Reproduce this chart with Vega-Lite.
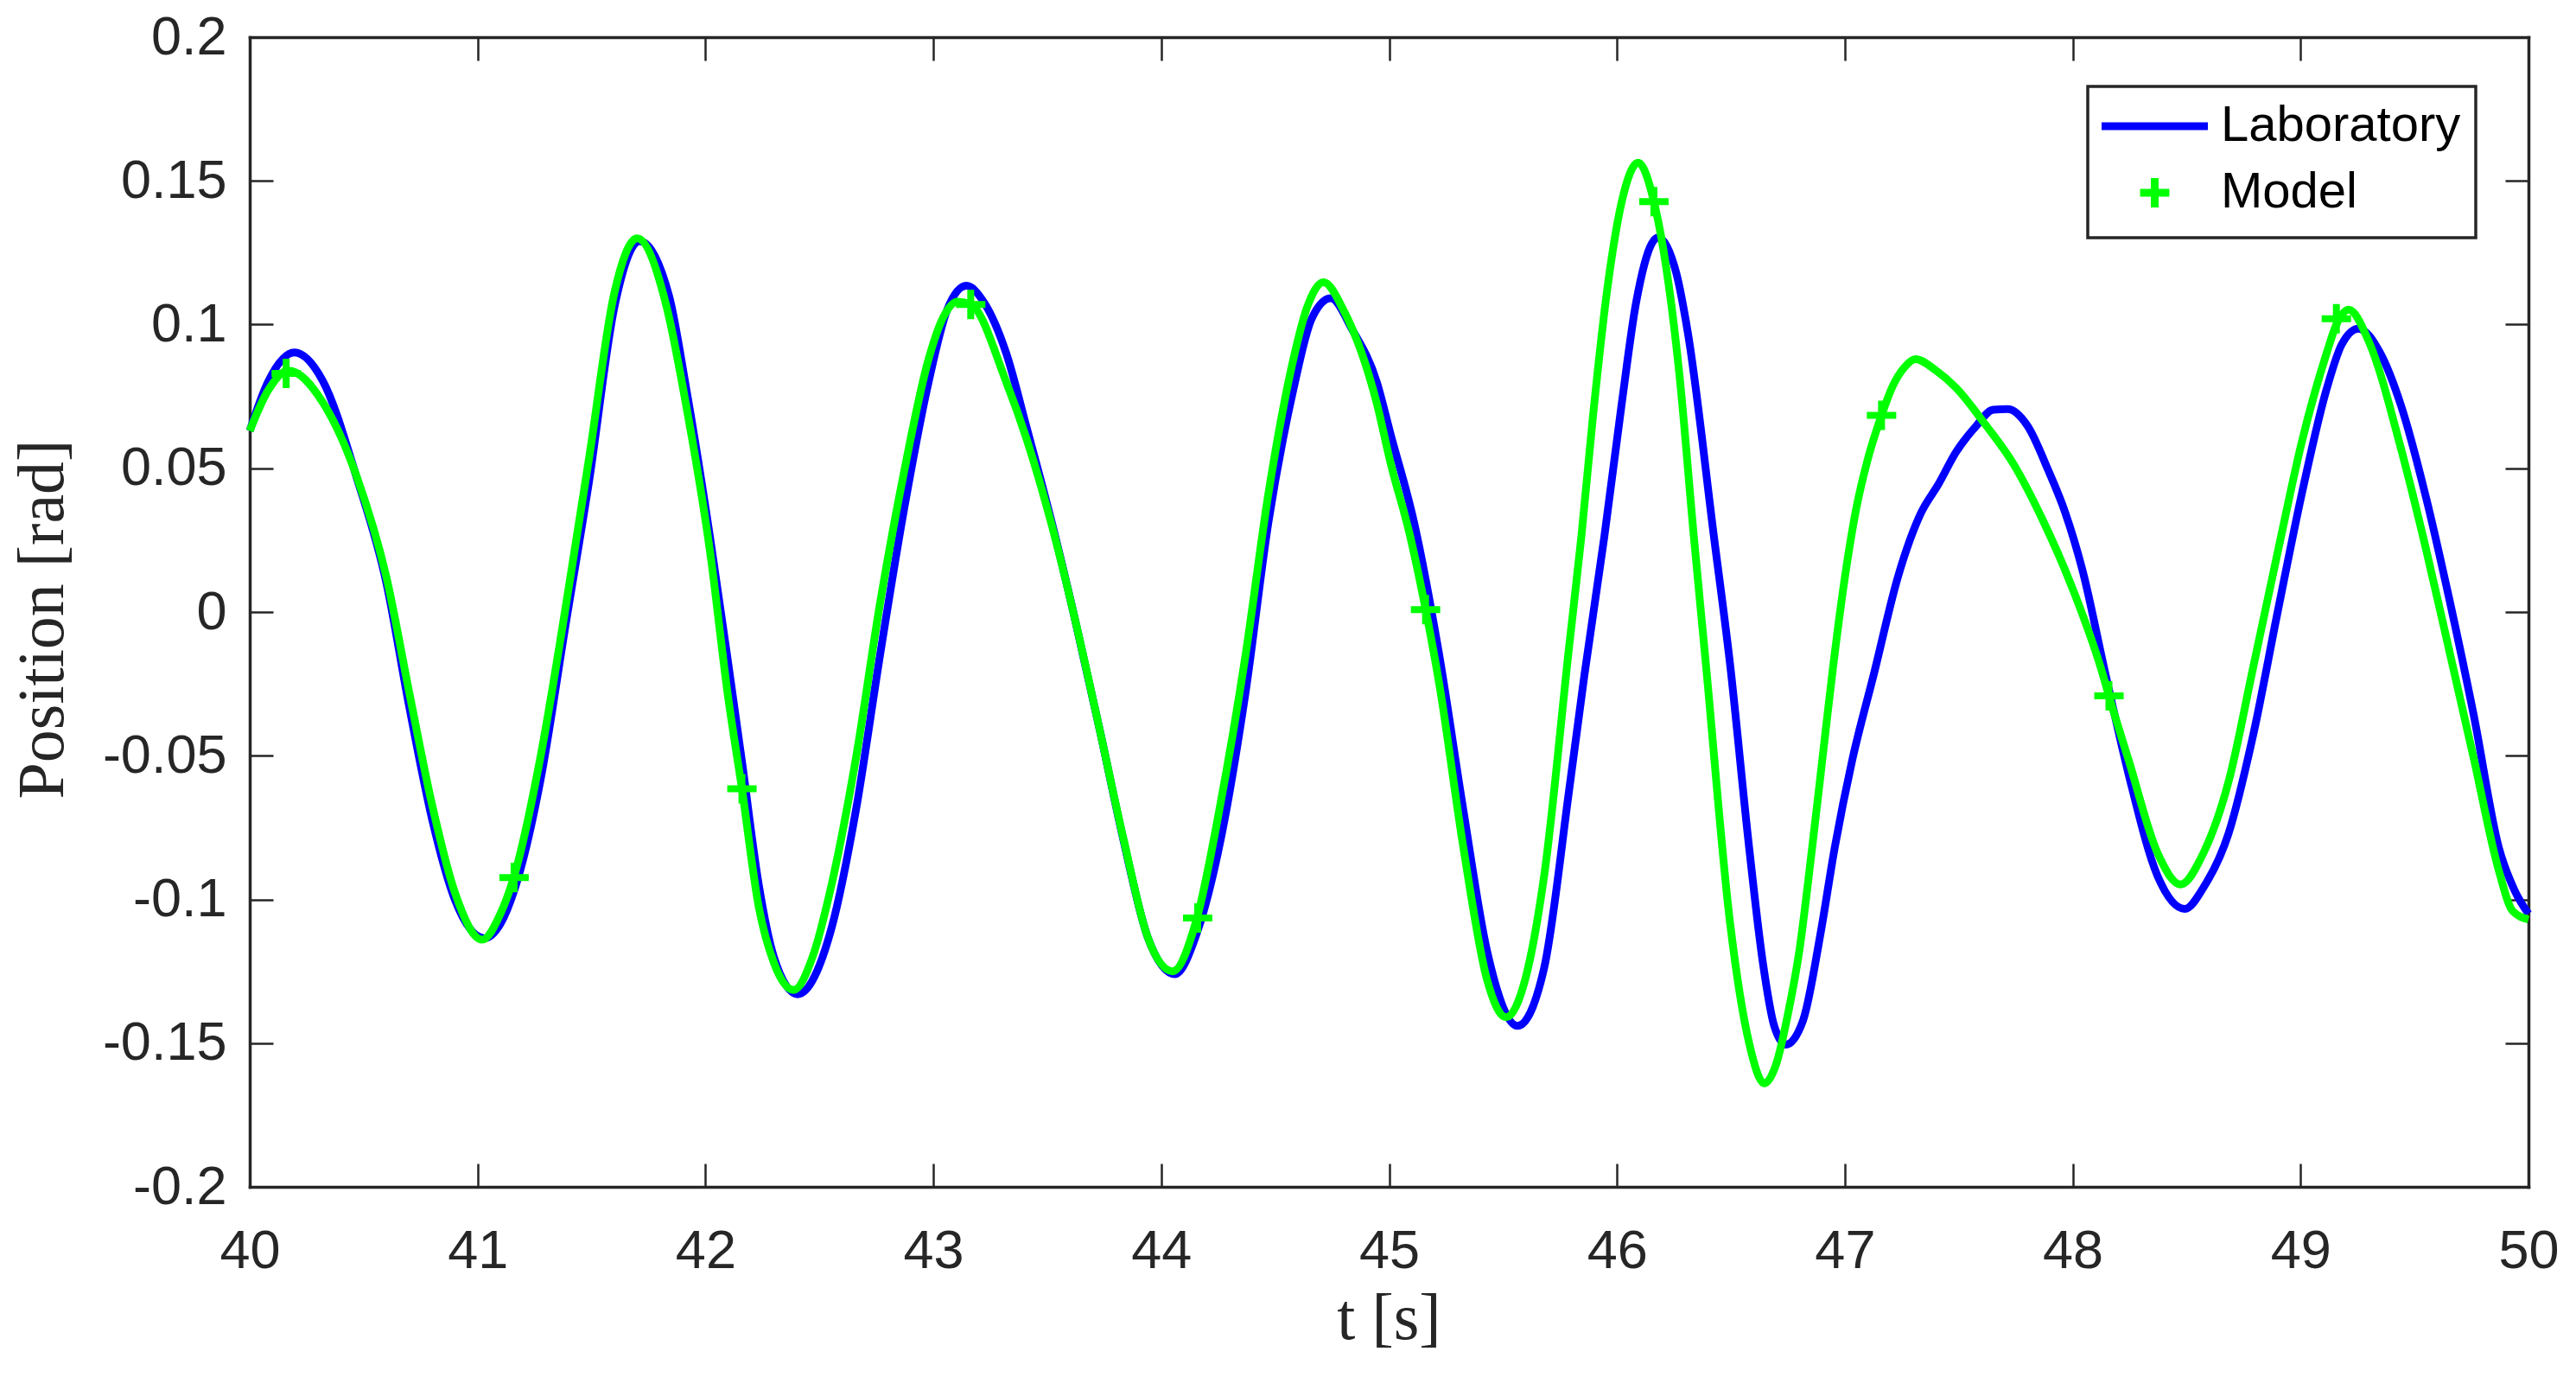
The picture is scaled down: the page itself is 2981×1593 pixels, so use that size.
{
  "$schema": "https://vega.github.io/schema/vega-lite/v6.json",
  "width": 2637,
  "height": 1330,
  "autosize": {"type": "none"},
  "padding": {"left": 289, "top": 43, "right": 55, "bottom": 220},
  "background": "#FFFFFF",
  "config": {"view": {"stroke": null}, "axis": {"grid": false}},
  "datasets": {
    "lab": [
      {"t": 40.00, "v": 0.063, "s": "Laboratory"},
      {"t": 40.08, "v": 0.080, "s": "Laboratory"},
      {"t": 40.196, "v": 0.0903, "s": "Laboratory"},
      {"t": 40.32, "v": 0.0805, "s": "Laboratory"},
      {"t": 40.47, "v": 0.0466, "s": "Laboratory"},
      {"t": 40.60, "v": 0.010, "s": "Laboratory"},
      {"t": 40.70, "v": -0.033, "s": "Laboratory"},
      {"t": 40.80, "v": -0.072, "s": "Laboratory"},
      {"t": 40.90, "v": -0.100, "s": "Laboratory"},
      {"t": 41.03, "v": -0.1135, "s": "Laboratory"},
      {"t": 41.10, "v": -0.1085, "s": "Laboratory"},
      {"t": 41.16, "v": -0.097, "s": "Laboratory"},
      {"t": 41.277, "v": -0.058, "s": "Laboratory"},
      {"t": 41.383, "v": -0.006, "s": "Laboratory"},
      {"t": 41.49, "v": 0.046, "s": "Laboratory"},
      {"t": 41.60, "v": 0.106, "s": "Laboratory"},
      {"t": 41.71, "v": 0.129, "s": "Laboratory"},
      {"t": 41.84, "v": 0.110, "s": "Laboratory"},
      {"t": 41.915, "v": 0.078, "s": "Laboratory"},
      {"t": 42.02, "v": 0.026, "s": "Laboratory"},
      {"t": 42.10, "v": -0.018, "s": "Laboratory"},
      {"t": 42.16, "v": -0.052, "s": "Laboratory"},
      {"t": 42.234, "v": -0.095, "s": "Laboratory"},
      {"t": 42.30, "v": -0.120, "s": "Laboratory"},
      {"t": 42.404, "v": -0.133, "s": "Laboratory"},
      {"t": 42.553, "v": -0.110, "s": "Laboratory"},
      {"t": 42.66, "v": -0.069, "s": "Laboratory"},
      {"t": 42.766, "v": -0.015, "s": "Laboratory"},
      {"t": 42.872, "v": 0.036, "s": "Laboratory"},
      {"t": 42.979, "v": 0.080, "s": "Laboratory"},
      {"t": 43.06, "v": 0.105, "s": "Laboratory"},
      {"t": 43.145, "v": 0.1135, "s": "Laboratory"},
      {"t": 43.22, "v": 0.108, "s": "Laboratory"},
      {"t": 43.32, "v": 0.090, "s": "Laboratory"},
      {"t": 43.41, "v": 0.064, "s": "Laboratory"},
      {"t": 43.517, "v": 0.032, "s": "Laboratory"},
      {"t": 43.62, "v": -0.002, "s": "Laboratory"},
      {"t": 43.73, "v": -0.041, "s": "Laboratory"},
      {"t": 43.836, "v": -0.080, "s": "Laboratory"},
      {"t": 43.94, "v": -0.113, "s": "Laboratory"},
      {"t": 44.06, "v": -0.126, "s": "Laboratory"},
      {"t": 44.155, "v": -0.112, "s": "Laboratory"},
      {"t": 44.26, "v": -0.0795, "s": "Laboratory"},
      {"t": 44.37, "v": -0.028, "s": "Laboratory"},
      {"t": 44.47, "v": 0.031, "s": "Laboratory"},
      {"t": 44.58, "v": 0.0775, "s": "Laboratory"},
      {"t": 44.66, "v": 0.102, "s": "Laboratory"},
      {"t": 44.744, "v": 0.1092, "s": "Laboratory"},
      {"t": 44.84, "v": 0.098, "s": "Laboratory"},
      {"t": 44.946, "v": 0.080, "s": "Laboratory"},
      {"t": 45.006, "v": 0.062, "s": "Laboratory"},
      {"t": 45.11, "v": 0.031, "s": "Laboratory"},
      {"t": 45.22, "v": -0.015, "s": "Laboratory"},
      {"t": 45.326, "v": -0.069, "s": "Laboratory"},
      {"t": 45.43, "v": -0.118, "s": "Laboratory"},
      {"t": 45.564, "v": -0.144, "s": "Laboratory"},
      {"t": 45.68, "v": -0.124, "s": "Laboratory"},
      {"t": 45.79, "v": -0.062, "s": "Laboratory"},
      {"t": 45.857, "v": -0.022, "s": "Laboratory"},
      {"t": 45.945, "v": 0.0265, "s": "Laboratory"},
      {"t": 46.021, "v": 0.0726, "s": "Laboratory"},
      {"t": 46.084, "v": 0.1077, "s": "Laboratory"},
      {"t": 46.179, "v": 0.1302, "s": "Laboratory"},
      {"t": 46.26, "v": 0.118, "s": "Laboratory"},
      {"t": 46.31, "v": 0.0977, "s": "Laboratory"},
      {"t": 46.425, "v": 0.0265, "s": "Laboratory"},
      {"t": 46.496, "v": -0.018, "s": "Laboratory"},
      {"t": 46.58, "v": -0.082, "s": "Laboratory"},
      {"t": 46.64, "v": -0.1219, "s": "Laboratory"},
      {"t": 46.69, "v": -0.144, "s": "Laboratory"},
      {"t": 46.741, "v": -0.1505, "s": "Laboratory"},
      {"t": 46.817, "v": -0.142, "s": "Laboratory"},
      {"t": 46.893, "v": -0.112, "s": "Laboratory"},
      {"t": 46.956, "v": -0.0818, "s": "Laboratory"},
      {"t": 47.032, "v": -0.0517, "s": "Laboratory"},
      {"t": 47.127, "v": -0.0217, "s": "Laboratory"},
      {"t": 47.234, "v": 0.0125, "s": "Laboratory"},
      {"t": 47.335, "v": 0.0346, "s": "Laboratory"},
      {"t": 47.411, "v": 0.0445, "s": "Laboratory"},
      {"t": 47.487, "v": 0.0555, "s": "Laboratory"},
      {"t": 47.575, "v": 0.0646, "s": "Laboratory"},
      {"t": 47.651, "v": 0.0704, "s": "Laboratory"},
      {"t": 47.714, "v": 0.0706, "s": "Laboratory"},
      {"t": 47.803, "v": 0.0646, "s": "Laboratory"},
      {"t": 47.891, "v": 0.0496, "s": "Laboratory"},
      {"t": 47.967, "v": 0.0346, "s": "Laboratory"},
      {"t": 48.043, "v": 0.0145, "s": "Laboratory"},
      {"t": 48.144, "v": -0.0217, "s": "Laboratory"},
      {"t": 48.246, "v": -0.0567, "s": "Laboratory"},
      {"t": 48.372, "v": -0.0918, "s": "Laboratory"},
      {"t": 48.492, "v": -0.1033, "s": "Laboratory"},
      {"t": 48.574, "v": -0.0958, "s": "Laboratory"},
      {"t": 48.684, "v": -0.077, "s": "Laboratory"},
      {"t": 48.79, "v": -0.0435, "s": "Laboratory"},
      {"t": 48.90, "v": 0.0003, "s": "Laboratory"},
      {"t": 49.006, "v": 0.0414, "s": "Laboratory"},
      {"t": 49.114, "v": 0.0775, "s": "Laboratory"},
      {"t": 49.18, "v": 0.093, "s": "Laboratory"},
      {"t": 49.254, "v": 0.0986, "s": "Laboratory"},
      {"t": 49.35, "v": 0.090, "s": "Laboratory"},
      {"t": 49.44, "v": 0.072, "s": "Laboratory"},
      {"t": 49.55, "v": 0.040, "s": "Laboratory"},
      {"t": 49.65, "v": 0.0054, "s": "Laboratory"},
      {"t": 49.76, "v": -0.036, "s": "Laboratory"},
      {"t": 49.87, "v": -0.082, "s": "Laboratory"},
      {"t": 49.94, "v": -0.097, "s": "Laboratory"},
      {"t": 50.00, "v": -0.105, "s": "Laboratory"}
    ],
    "model": [
      {"t": 40.00, "v": 0.063, "s": "Model"},
      {"t": 40.08, "v": 0.077, "s": "Model"},
      {"t": 40.17, "v": 0.084, "s": "Model"},
      {"t": 40.32, "v": 0.073, "s": "Model"},
      {"t": 40.47, "v": 0.047, "s": "Model"},
      {"t": 40.60, "v": 0.012, "s": "Model"},
      {"t": 40.70, "v": -0.028, "s": "Model"},
      {"t": 40.80, "v": -0.067, "s": "Model"},
      {"t": 40.90, "v": -0.0975, "s": "Model"},
      {"t": 41.02, "v": -0.114, "s": "Model"},
      {"t": 41.10, "v": -0.105, "s": "Model"},
      {"t": 41.16, "v": -0.092, "s": "Model"},
      {"t": 41.277, "v": -0.050, "s": "Model"},
      {"t": 41.383, "v": 0.000, "s": "Model"},
      {"t": 41.49, "v": 0.054, "s": "Model"},
      {"t": 41.60, "v": 0.111, "s": "Model"},
      {"t": 41.70, "v": 0.130, "s": "Model"},
      {"t": 41.83, "v": 0.106, "s": "Model"},
      {"t": 41.915, "v": 0.072, "s": "Model"},
      {"t": 42.02, "v": 0.021, "s": "Model"},
      {"t": 42.10, "v": -0.030, "s": "Model"},
      {"t": 42.16, "v": -0.0615, "s": "Model"},
      {"t": 42.234, "v": -0.1027, "s": "Model"},
      {"t": 42.30, "v": -0.122, "s": "Model"},
      {"t": 42.387, "v": -0.1315, "s": "Model"},
      {"t": 42.47, "v": -0.120, "s": "Model"},
      {"t": 42.553, "v": -0.095, "s": "Model"},
      {"t": 42.66, "v": -0.051, "s": "Model"},
      {"t": 42.766, "v": 0.003, "s": "Model"},
      {"t": 42.872, "v": 0.049, "s": "Model"},
      {"t": 42.979, "v": 0.088, "s": "Model"},
      {"t": 43.04, "v": 0.102, "s": "Model"},
      {"t": 43.106, "v": 0.108, "s": "Model"},
      {"t": 43.164, "v": 0.107, "s": "Model"},
      {"t": 43.32, "v": 0.080, "s": "Model"},
      {"t": 43.41, "v": 0.060, "s": "Model"},
      {"t": 43.517, "v": 0.031, "s": "Model"},
      {"t": 43.62, "v": -0.002, "s": "Model"},
      {"t": 43.73, "v": -0.041, "s": "Model"},
      {"t": 43.836, "v": -0.0795, "s": "Model"},
      {"t": 43.94, "v": -0.113, "s": "Model"},
      {"t": 44.05, "v": -0.125, "s": "Model"},
      {"t": 44.155, "v": -0.107, "s": "Model"},
      {"t": 44.26, "v": -0.0667, "s": "Model"},
      {"t": 44.37, "v": -0.015, "s": "Model"},
      {"t": 44.47, "v": 0.041, "s": "Model"},
      {"t": 44.58, "v": 0.088, "s": "Model"},
      {"t": 44.64, "v": 0.106, "s": "Model"},
      {"t": 44.712, "v": 0.1147, "s": "Model"},
      {"t": 44.80, "v": 0.105, "s": "Model"},
      {"t": 44.946, "v": 0.0726, "s": "Model"},
      {"t": 45.006, "v": 0.052, "s": "Model"},
      {"t": 45.092, "v": 0.0265, "s": "Model"},
      {"t": 45.16, "v": 0.001, "s": "Model"},
      {"t": 45.22, "v": -0.025, "s": "Model"},
      {"t": 45.326, "v": -0.082, "s": "Model"},
      {"t": 45.43, "v": -0.128, "s": "Model"},
      {"t": 45.513, "v": -0.141, "s": "Model"},
      {"t": 45.60, "v": -0.127, "s": "Model"},
      {"t": 45.68, "v": -0.092, "s": "Model"},
      {"t": 45.79, "v": -0.012, "s": "Model"},
      {"t": 45.844, "v": 0.0265, "s": "Model"},
      {"t": 45.894, "v": 0.0676, "s": "Model"},
      {"t": 45.958, "v": 0.1127, "s": "Model"},
      {"t": 46.021, "v": 0.1428, "s": "Model"},
      {"t": 46.093, "v": 0.1563, "s": "Model"},
      {"t": 46.162, "v": 0.1428, "s": "Model"},
      {"t": 46.274, "v": 0.0826, "s": "Model"},
      {"t": 46.337, "v": 0.0265, "s": "Model"},
      {"t": 46.39, "v": -0.018, "s": "Model"},
      {"t": 46.496, "v": -0.108, "s": "Model"},
      {"t": 46.58, "v": -0.150, "s": "Model"},
      {"t": 46.646, "v": -0.164, "s": "Model"},
      {"t": 46.70, "v": -0.157, "s": "Model"},
      {"t": 46.75, "v": -0.140, "s": "Model"},
      {"t": 46.80, "v": -0.118, "s": "Model"},
      {"t": 46.855, "v": -0.083, "s": "Model"},
      {"t": 46.906, "v": -0.048, "s": "Model"},
      {"t": 46.95, "v": -0.018, "s": "Model"},
      {"t": 47.00, "v": 0.012, "s": "Model"},
      {"t": 47.05, "v": 0.036, "s": "Model"},
      {"t": 47.10, "v": 0.053, "s": "Model"},
      {"t": 47.161, "v": 0.0684, "s": "Model"},
      {"t": 47.21, "v": 0.0786, "s": "Model"},
      {"t": 47.26, "v": 0.085, "s": "Model"},
      {"t": 47.31, "v": 0.088, "s": "Model"},
      {"t": 47.40, "v": 0.084, "s": "Model"},
      {"t": 47.487, "v": 0.0781, "s": "Model"},
      {"t": 47.613, "v": 0.0656, "s": "Model"},
      {"t": 47.74, "v": 0.0515, "s": "Model"},
      {"t": 47.866, "v": 0.0324, "s": "Model"},
      {"t": 47.993, "v": 0.0094, "s": "Model"},
      {"t": 48.132, "v": -0.0217, "s": "Model"},
      {"t": 48.159, "v": -0.0292, "s": "Model"},
      {"t": 48.246, "v": -0.0517, "s": "Model"},
      {"t": 48.372, "v": -0.0838, "s": "Model"},
      {"t": 48.473, "v": -0.0948, "s": "Model"},
      {"t": 48.574, "v": -0.0838, "s": "Model"},
      {"t": 48.684, "v": -0.059, "s": "Model"},
      {"t": 48.79, "v": -0.020, "s": "Model"},
      {"t": 48.90, "v": 0.021, "s": "Model"},
      {"t": 49.006, "v": 0.0594, "s": "Model"},
      {"t": 49.114, "v": 0.090, "s": "Model"},
      {"t": 49.157, "v": 0.100, "s": "Model"},
      {"t": 49.211, "v": 0.1052, "s": "Model"},
      {"t": 49.30, "v": 0.094, "s": "Model"},
      {"t": 49.44, "v": 0.057, "s": "Model"},
      {"t": 49.55, "v": 0.022, "s": "Model"},
      {"t": 49.65, "v": -0.0126, "s": "Model"},
      {"t": 49.76, "v": -0.051, "s": "Model"},
      {"t": 49.87, "v": -0.090, "s": "Model"},
      {"t": 49.93, "v": -0.104, "s": "Model"},
      {"t": 50.00, "v": -0.107, "s": "Model"}
    ],
    "marks": [
      {"t": 40.16, "v": 0.083},
      {"t": 41.16, "v": -0.0924},
      {"t": 42.16, "v": -0.0615},
      {"t": 43.164, "v": 0.107},
      {"t": 44.16, "v": -0.1065},
      {"t": 45.16, "v": 0.0008},
      {"t": 46.162, "v": 0.1428},
      {"t": 47.161, "v": 0.0684},
      {"t": 48.159, "v": -0.0292},
      {"t": 49.157, "v": 0.102}
    ]
  },
  "layer": [
    {
      "data": {"name": "lab"},
      "mark": {"type": "line", "strokeWidth": 9, "interpolate": "monotone"},
      "encoding": {
        "x": {
          "field": "t", "type": "quantitative",
          "scale": {"domain": [40, 50], "nice": false, "zero": false},
          "axis": {
            "orient": "bottom",
            "values": [40, 41, 42, 43, 44, 45, 46, 47, 48, 49, 50],
            "format": "d",
            "tickSize": -27, "tickWidth": 2.5, "tickColor": "#262626",
            "domainColor": "#262626", "domainWidth": 3.5, "domainCap": "square",
            "labelFont": "Liberation Sans", "labelFontSize": 63, "labelColor": "#262626",
            "labelPadding": 120, "labelBaseline": "alphabetic", "labelFlush": false, "labelOverlap": false,
            "title": "t [s]", "titleFont": "Liberation Serif", "titleFontSize": 76,
            "titleFontWeight": "normal", "titleColor": "#262626",
            "titleX": 1318, "titleY": 175, "titleBaseline": "alphabetic", "titleAlign": "center", "titleAngle": 0
          }
        },
        "y": {
          "field": "v", "type": "quantitative",
          "scale": {"domain": [-0.2, 0.2], "nice": false, "zero": false},
          "axis": {
            "orient": "left",
            "values": [-0.2, -0.15, -0.1, -0.05, 0, 0.05, 0.1, 0.15, 0.2],
            "labelExpr": "datum.value == 0 ? '0' : (datum.value < 0 ? '-' : '') + format(abs(datum.value), '~g')",
            "tickSize": -27, "tickWidth": 2.5, "tickColor": "#262626",
            "domainColor": "#262626", "domainWidth": 3.5, "domainCap": "square",
            "labelFont": "Liberation Sans", "labelFontSize": 63, "labelColor": "#262626",
            "labelPadding": 54, "labelBaseline": "middle", "labelAlign": "right", "labelFlush": false, "labelOverlap": false,
            "title": "Position [rad]", "titleFont": "Liberation Serif", "titleFontSize": 76,
            "titleFontWeight": "normal", "titleColor": "#262626",
            "titleX": -217, "titleY": 673, "titleBaseline": "alphabetic", "titleAlign": "center", "titleAngle": 270
          }
        },
        "color": {
          "field": "s", "type": "nominal",
          "scale": {"domain": ["Laboratory", "Model"], "range": ["#0000FF", "#00FF00"]},
          "legend": {
            "orient": "none", "legendX": 2127, "legendY": 57, "title": null,
            "padding": 17, "strokeColor": "#262626", "fillColor": "#FFFFFF",
            "labelFont": "Liberation Sans", "labelFontSize": 58, "labelColor": "#000000", "labelLimit": 0,
            "symbolType": "M-4,0H4", "symbolSize": 945.6, "symbolStrokeWidth": 9,
            "symbolOffset": 31.5, "labelOffset": 47.5, "rowPadding": 13,
            "encode": {
              "legend": {
                "update": {
                  "stroke": {"value": "#262626"},
                  "strokeWidth": {"value": 3.5},
                  "fill": {"value": "#FFFFFF"}
                }
              },
              "symbols": {
                "update": {
                  "shape": [
                    {"test": "datum.value === 'Model'", "value": "M-1.1,0H1.1M0,-1.1V1.1"},
                    {"value": "M-4,0H4"}
                  ]
                }
              }
            }
          }
        }
      }
    },
    {
      "data": {"name": "model"},
      "mark": {"type": "line", "strokeWidth": 9, "interpolate": "monotone"},
      "encoding": {
        "x": {
          "field": "t", "type": "quantitative",
          "axis": {
            "orient": "top",
            "values": [40, 41, 42, 43, 44, 45, 46, 47, 48, 49, 50],
            "labels": false, "title": null,
            "tickSize": -27, "tickWidth": 2.5, "tickColor": "#262626",
            "domainColor": "#262626", "domainWidth": 3.5, "domainCap": "square"
          }
        },
        "y": {
          "field": "v", "type": "quantitative",
          "axis": {
            "orient": "right",
            "values": [-0.2, -0.15, -0.1, -0.05, 0, 0.05, 0.1, 0.15, 0.2],
            "labels": false, "title": null,
            "tickSize": -27, "tickWidth": 2.5, "tickColor": "#262626",
            "domainColor": "#262626", "domainWidth": 3.5, "domainCap": "square"
          }
        },
        "color": {"field": "s", "type": "nominal"}
      }
    },
    {
      "data": {"name": "marks"},
      "mark": {"type": "point", "shape": "M-1,0H1M0,-1V1", "size": 1156, "strokeWidth": 8, "filled": false, "color": "#00FF00", "opacity": 1},
      "encoding": {
        "x": {"field": "t", "type": "quantitative", "axis": null},
        "y": {"field": "v", "type": "quantitative", "axis": null}
      }
    }
  ],
  "resolve": {"axis": {"x": "independent", "y": "independent"}}
}
